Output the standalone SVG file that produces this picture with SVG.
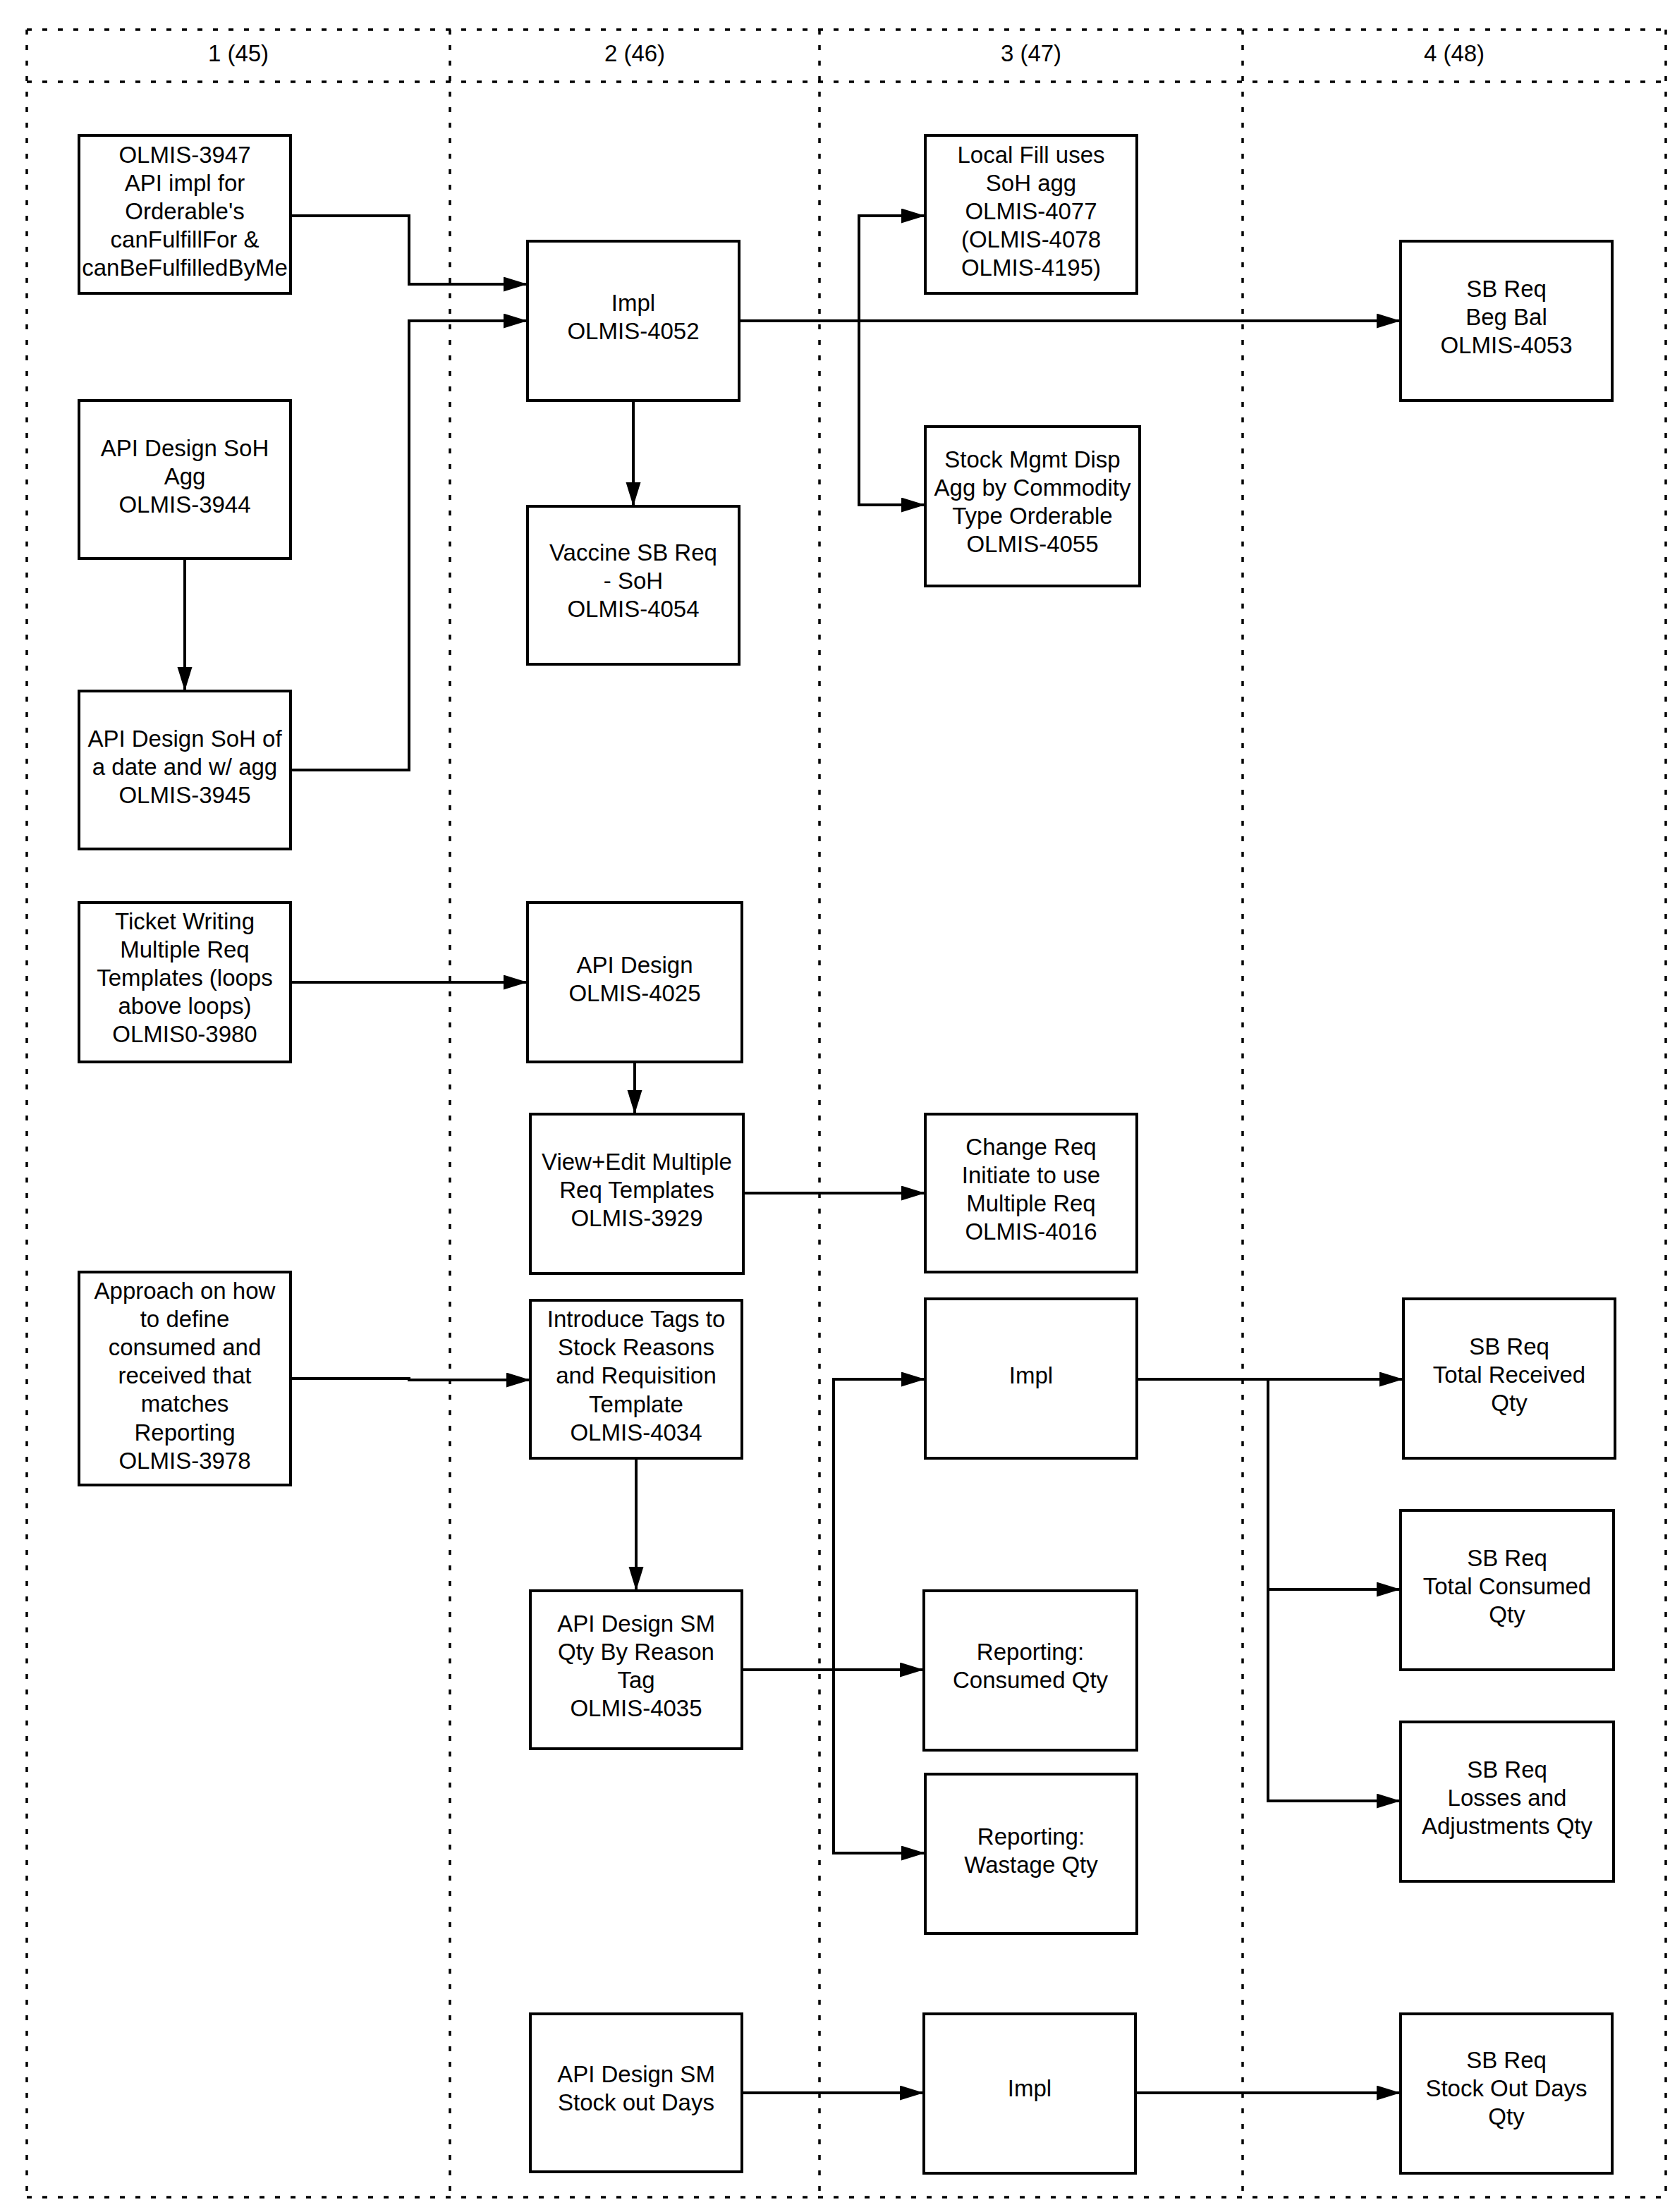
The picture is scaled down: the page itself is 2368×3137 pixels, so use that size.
<svg xmlns="http://www.w3.org/2000/svg" width="2368" height="3137" viewBox="0 0 2368 3137">
<style>
.box{fill:#fff;stroke:#000;stroke-width:4}
.pool{fill:none;stroke:#000;stroke-width:3.5;stroke-dasharray:7 15}
.conn{fill:none;stroke:#000;stroke-width:4}
text{font-family:"Liberation Sans",Arial,sans-serif;font-size:33px;fill:#000;text-anchor:middle}
</style>
<defs>
<marker id="arr" markerUnits="userSpaceOnUse" markerWidth="36" markerHeight="22" refX="34" refY="10.5" orient="auto">
<path d="M0,0 L34,10.5 L0,21 Z" fill="#000"/>
</marker>
</defs>
<rect width="2368" height="3137" fill="#fff"/>
<g id="pools">
<line class="pool" x1="38" y1="42" x2="2362" y2="42"/>
<line class="pool" x1="38" y1="116" x2="2362" y2="116"/>
<line class="pool" x1="38" y1="3116" x2="2362" y2="3116"/>
<line class="pool" x1="38" y1="42" x2="38" y2="3116"/>
<line class="pool" x1="638" y1="42" x2="638" y2="3116"/>
<line class="pool" x1="1162" y1="42" x2="1162" y2="3116"/>
<line class="pool" x1="1762" y1="42" x2="1762" y2="3116"/>
<line class="pool" x1="2362" y1="42" x2="2362" y2="3116"/>
<text x="338" y="87">1 (45)</text>
<text x="900" y="87">2 (46)</text>
<text x="1462" y="87">3 (47)</text>
<text x="2062" y="87">4 (48)</text>
</g>
<g id="connectors">
<polyline class="conn" points="412,306 580,306 580,403 748,403" marker-end="url(#arr)"/>
<polyline class="conn" points="412,1092 580,1092 580,455 748,455" marker-end="url(#arr)"/>
<line class="conn" x1="262" y1="792" x2="262" y2="980" marker-end="url(#arr)"/>
<line class="conn" x1="898" y1="568" x2="898" y2="718" marker-end="url(#arr)"/>
<line class="conn" x1="1048" y1="455" x2="1986" y2="455" marker-end="url(#arr)"/>
<polyline class="conn" points="1218,455 1218,306 1312,306" marker-end="url(#arr)"/>
<polyline class="conn" points="1218,455 1218,716 1312,716" marker-end="url(#arr)"/>
<line class="conn" x1="412" y1="1393" x2="748" y2="1393" marker-end="url(#arr)"/>
<line class="conn" x1="900" y1="1506" x2="900" y2="1580" marker-end="url(#arr)"/>
<line class="conn" x1="1054" y1="1692" x2="1312" y2="1692" marker-end="url(#arr)"/>
<polyline class="conn" points="412,1955 580,1955 580,1957 752,1957" marker-end="url(#arr)"/>
<line class="conn" x1="902" y1="2068" x2="902" y2="2256" marker-end="url(#arr)"/>
<line class="conn" x1="1052" y1="2368" x2="1310" y2="2368" marker-end="url(#arr)"/>
<polyline class="conn" points="1182,2368 1182,1956 1312,1956" marker-end="url(#arr)"/>
<polyline class="conn" points="1182,2368 1182,2628 1312,2628" marker-end="url(#arr)"/>
<line class="conn" x1="1612" y1="1956" x2="1990" y2="1956" marker-end="url(#arr)"/>
<polyline class="conn" points="1798,1956 1798,2254 1986,2254" marker-end="url(#arr)"/>
<polyline class="conn" points="1798,2254 1798,2554 1986,2554" marker-end="url(#arr)"/>
<line class="conn" x1="1052" y1="2968" x2="1310" y2="2968" marker-end="url(#arr)"/>
<line class="conn" x1="1610" y1="2968" x2="1986" y2="2968" marker-end="url(#arr)"/>
</g>
<g id="n3947"><rect class="box" x="112" y="192" width="300" height="224"/>
<text x="262" y="231">OLMIS-3947</text><text x="262" y="271">API impl for</text><text x="262" y="311">Orderable's</text><text x="262" y="351">canFulfillFor &amp;</text><text x="262" y="391">canBeFulfilledByMe</text></g>
<g id="n3944"><rect class="box" x="112" y="568" width="300" height="224"/>
<text x="262" y="647">API Design SoH</text><text x="262" y="687">Agg</text><text x="262" y="727">OLMIS-3944</text></g>
<g id="n3945"><rect class="box" x="112" y="980" width="300" height="224"/>
<text x="262" y="1059">API Design SoH of</text><text x="262" y="1099">a date and w/ agg</text><text x="262" y="1139">OLMIS-3945</text></g>
<g id="n4052"><rect class="box" x="748" y="342" width="300" height="226"/>
<text x="898" y="441">Impl</text><text x="898" y="481">OLMIS-4052</text></g>
<g id="n4054"><rect class="box" x="748" y="718" width="300" height="224"/>
<text x="898" y="795">Vaccine SB Req</text><text x="898" y="835">- SoH</text><text x="898" y="875">OLMIS-4054</text></g>
<g id="n4077"><rect class="box" x="1312" y="192" width="300" height="224"/>
<text x="1462" y="231">Local Fill uses</text><text x="1462" y="271">SoH agg</text><text x="1462" y="311">OLMIS-4077</text><text x="1462" y="351">(OLMIS-4078</text><text x="1462" y="391">OLMIS-4195)</text></g>
<g id="n4055"><rect class="box" x="1312" y="605" width="304" height="226"/>
<text x="1464" y="663">Stock Mgmt Disp</text><text x="1464" y="703">Agg by Commodity</text><text x="1464" y="743">Type Orderable</text><text x="1464" y="783">OLMIS-4055</text></g>
<g id="n4053"><rect class="box" x="1986" y="342" width="300" height="226"/>
<text x="2136" y="421">SB Req</text><text x="2136" y="461">Beg Bal</text><text x="2136" y="501">OLMIS-4053</text></g>
<g id="n3980"><rect class="box" x="112" y="1280" width="300" height="226"/>
<text x="262" y="1318">Ticket Writing</text><text x="262" y="1358">Multiple Req</text><text x="262" y="1398">Templates (loops</text><text x="262" y="1438">above loops)</text><text x="262" y="1478">OLMIS0-3980</text></g>
<g id="n4025"><rect class="box" x="748" y="1280" width="304" height="226"/>
<text x="900" y="1380">API Design</text><text x="900" y="1420">OLMIS-4025</text></g>
<g id="n3929"><rect class="box" x="752" y="1580" width="302" height="226"/>
<text x="903" y="1659">View+Edit Multiple</text><text x="903" y="1699">Req Templates</text><text x="903" y="1739">OLMIS-3929</text></g>
<g id="n4016"><rect class="box" x="1312" y="1580" width="300" height="224"/>
<text x="1462" y="1638">Change Req</text><text x="1462" y="1678">Initiate to use</text><text x="1462" y="1718">Multiple Req</text><text x="1462" y="1758">OLMIS-4016</text></g>
<g id="n3978"><rect class="box" x="112" y="1804" width="300" height="302"/>
<text x="262" y="1842">Approach on how</text><text x="262" y="1882">to define</text><text x="262" y="1922">consumed and</text><text x="262" y="1962">received that</text><text x="262" y="2002">matches</text><text x="262" y="2043">Reporting</text><text x="262" y="2083">OLMIS-3978</text></g>
<g id="n4034"><rect class="box" x="752" y="1844" width="300" height="224"/>
<text x="902" y="1882">Introduce Tags to</text><text x="902" y="1922">Stock Reasons</text><text x="902" y="1962">and Requisition</text><text x="902" y="2003">Template</text><text x="902" y="2043">OLMIS-4034</text></g>
<g id="n4035"><rect class="box" x="752" y="2256" width="300" height="224"/>
<text x="902" y="2314">API Design SM</text><text x="902" y="2354">Qty By Reason</text><text x="902" y="2394">Tag</text><text x="902" y="2434">OLMIS-4035</text></g>
<g id="nImpl3"><rect class="box" x="1312" y="1842" width="300" height="226"/>
<text x="1462" y="1962">Impl</text></g>
<g id="nConsumed"><rect class="box" x="1310" y="2256" width="302" height="226"/>
<text x="1461" y="2354">Reporting:</text><text x="1461" y="2394">Consumed Qty</text></g>
<g id="nWastage"><rect class="box" x="1312" y="2516" width="300" height="226"/>
<text x="1462" y="2616">Reporting:</text><text x="1462" y="2656">Wastage Qty</text></g>
<g id="nTR"><rect class="box" x="1990" y="1842" width="300" height="226"/>
<text x="2140" y="1921">SB Req</text><text x="2140" y="1961">Total Received</text><text x="2140" y="2001">Qty</text></g>
<g id="nTC"><rect class="box" x="1986" y="2142" width="302" height="226"/>
<text x="2137" y="2221">SB Req</text><text x="2137" y="2261">Total Consumed</text><text x="2137" y="2301">Qty</text></g>
<g id="nLA"><rect class="box" x="1986" y="2442" width="302" height="226"/>
<text x="2137" y="2521">SB Req</text><text x="2137" y="2561">Losses and</text><text x="2137" y="2601">Adjustments Qty</text></g>
<g id="nSOD"><rect class="box" x="752" y="2856" width="300" height="224"/>
<text x="902" y="2953">API Design SM</text><text x="902" y="2993">Stock out Days</text></g>
<g id="nImpl4"><rect class="box" x="1310" y="2856" width="300" height="226"/>
<text x="1460" y="2973">Impl</text></g>
<g id="nSODQ"><rect class="box" x="1986" y="2856" width="300" height="226"/>
<text x="2136" y="2933">SB Req</text><text x="2136" y="2973">Stock Out Days</text><text x="2136" y="3013">Qty</text></g>
</svg>
